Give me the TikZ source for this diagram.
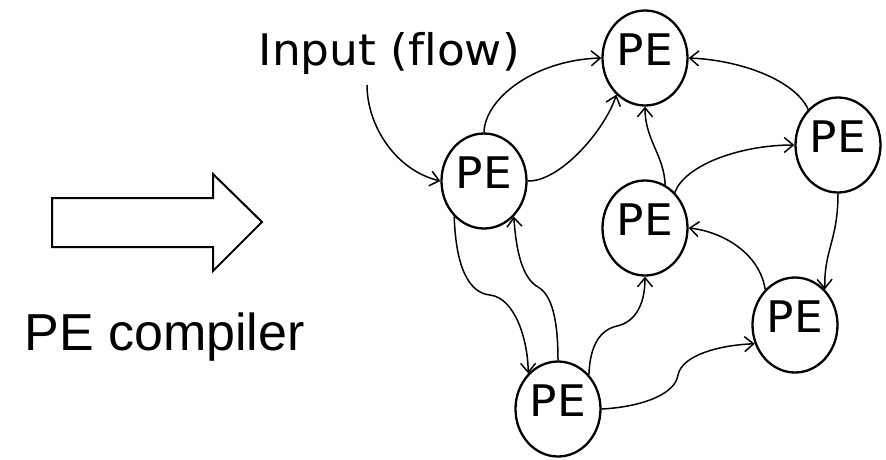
\documentclass[tikz,border=0pt]{standalone}
\usepackage{fontspec}
\newfontfamily\verafont[FakeStretch=1.045,Ligatures=CommonOff]{DejaVu Sans}
\newfontfamily\arialfont{Liberation Sans}
\usetikzlibrary{arrows.meta,shapes.geometric}
\begin{document}
\begin{tikzpicture}[x=1pt,y=-1pt,
  pe/.style={ellipse, draw, line width=2.3pt, minimum width=85pt,
    minimum height=95pt, inner sep=0pt,
    font=\verafont\fontsize{43.5}{50}\selectfont, text depth=17pt},
  flow/.style={line width=1.5pt, -{Straight Barb[length=9pt,width=15pt]}},
  bigarrow/.style={draw, line width=2pt, line join=miter}]
\useasboundingbox (0,0) rectangle (886,459);

% processing elements
\node[pe] (A) at (484,181) {PE};
\node[pe] (B) at (645,58) {PE};
\node[pe] (C) at (838,145) {PE};
\node[pe] (D) at (645,228) {PE};
\node[pe] (E) at (795,325) {PE};
\node[pe] (F) at (558,409) {PE};

% input label and the start of its flow
\node[anchor=base west, inner sep=0pt,
  font=\verafont\fontsize{43.5}{50}\selectfont] (inp) at (258.4,65) {Input (flow)};
\coordinate (src) at (367,85);

% compiler arrow and caption
\path[bigarrow] (52,198) -- (213,198) -- (213,174) -- (262,222)
  -- (213,271) -- (213,247) -- (52,247) -- cycle;
\node[anchor=base west, inner sep=0pt,
  font=\arialfont\fontsize{52}{60}\selectfont] (comp) at (24.3,350) {PE compiler};

% data flow between elements
\draw[flow] (src) .. controls (367,125) and (395,170) .. (A.west);
\draw[flow] (A.north) .. controls (485,98) and (535,60) .. (B.west);
\draw[flow] (A.east) .. controls (560,182) and (605,130) .. (B.232);
\draw[flow] (C.130) .. controls (795,80) and (740,60) .. (B.east);
\draw[flow] (D.65) .. controls (664,155) and (645,140) .. (B.south);
\draw[flow] (D.50) .. controls (685,165) and (740,145) .. (C.west);
\draw[flow] (C.south) .. controls (838,240) and (824,250) .. (E.50);
\draw[flow] (E.130) .. controls (760,255) and (725,232) .. (D.east);
\draw[flow] (A.230) .. controls (456,270) and (470,293) .. (490,295)
  .. controls (515,298) and (528,340) .. (F.130);
\draw[flow] (F.north) .. controls (558,320) and (552,295) .. (538,287)
  .. controls (522,278) and (516,250) .. (A.310);
\draw[flow] (F.48) .. controls (590,345) and (600,330) .. (617,326)
  .. controls (635,322) and (645,305) .. (D.south);
\draw[flow] (F.east) .. controls (640,407) and (675,395) .. (678,375)
  .. controls (682,355) and (720,345) .. (E.205);
\end{tikzpicture}
\end{document}
